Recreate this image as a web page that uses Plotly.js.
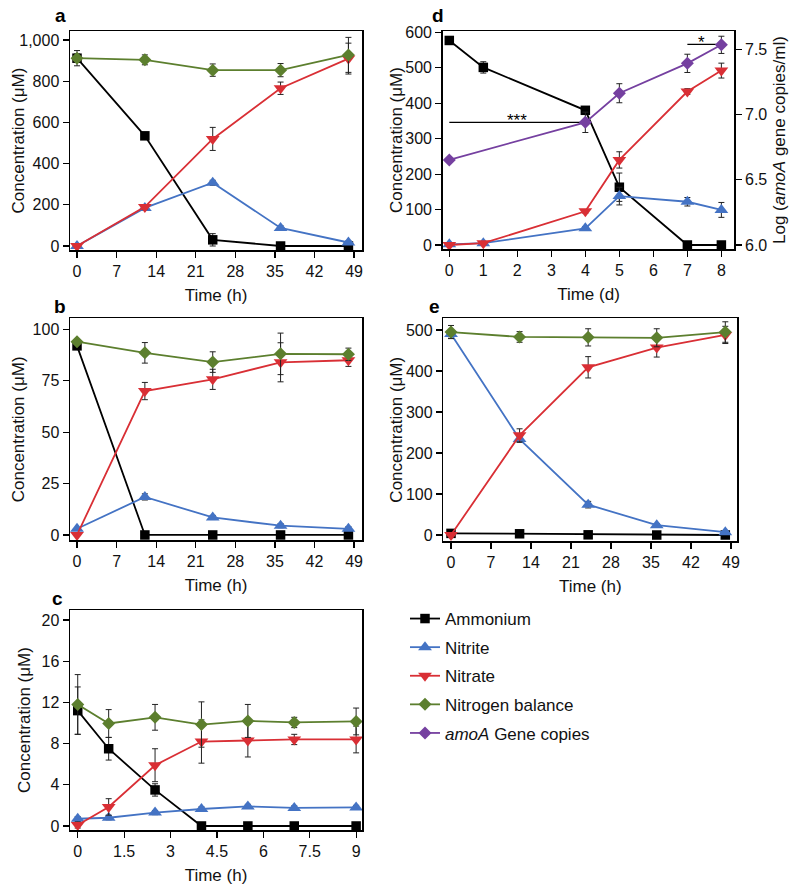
<!DOCTYPE html>
<html>
<head>
<meta charset="utf-8">
<script src="https://cdn.plot.ly/plotly-3.0.1.min.js"></script>
<style>html,body{margin:0;padding:0;background:#fff;}#chart{width:800px;height:890px;}</style>
</head>
<body>
<div id="chart"></div>
<script>
// ---------- DATA ----------
const seriesNames = ["Ammonium", "Nitrite", "Nitrate", "Nitrogen balance"];
const amoAName = "<i>amoA</i> Gene copies";

// Panel a (h)
const timeA = [0, 12, 24, 36, 48];
const aAmmonium = [912, 535, 30, 0, 0];
const aAmmoniumErr = [20, 10, 30, 0, 0];
const aNitrite = [0, 185, 307, 88, 17];
const aNitriteErr = [0, 8, 12, 10, 8];
const aNitrate = [0, 190, 520, 766, 910];
const aNitrateErr = [0, 10, 56, 30, 75];
const aBalance = [912, 904, 854, 854, 928];
const aBalanceErr = [37, 24, 30, 32, 85];

// Panel b (h)
const timeB = [0, 12, 24, 36, 48];
const bAmmonium = [92, 0, 0, 0, 0];
const bAmmoniumErr = [1, 0, 0, 0, 0];
const bNitrite = [3, 18.5, 8.5, 4.5, 3];
const bNitriteErr = [0.5, 1.5, 1, 1, 1];
const bNitrate = [0, 70, 75.7, 84, 85];
const bNitrateErr = [0, 4.2, 4.9, 9.5, 3];
const bBalance = [94, 88.6, 84.1, 88.1, 87.9];
const bBalanceErr = [1, 5, 5, 10.1, 3];

// Panel c (h)
const timeC = [0, 1, 2.5, 4, 5.5, 7, 9];
const cAmmonium = [11.2, 7.5, 3.5, 0, 0, 0, 0];
const cAmmoniumErr = [2.3, 1.1, 0.6, 0, 0, 0, 0];
const cNitrite = [0.7, 0.8, 1.3, 1.65, 1.9, 1.75, 1.8];
const cNitriteErr = [0.2, 0.2, 0.2, 0.2, 0.2, 0.2, 0.2];
const cNitrate = [0.1, 1.85, 5.9, 8.2, 8.3, 8.4, 8.4];
const cNitrateErr = [0.3, 0.8, 1.6, 2.1, 1.6, 0.5, 1.3];
const cBalance = [11.8, 9.95, 10.55, 9.85, 10.2, 10.05, 10.15];
const cBalanceErr = [2.9, 1.35, 1.25, 2.2, 1.6, 0.5, 1.3];

// Panel d (d)
const dayD = [0, 1, 4, 5, 7, 8];
const dAmmonium = [577, 501, 380, 163, 0, 0];
const dAmmoniumErr = [8, 16, 10, 40, 0, 0];
const dNitrite = [2, 5, 47, 138, 122, 99];
const dNitriteErr = [0, 3, 5, 25, 12, 21];
const dNitrate = [0, 5, 95, 240, 433, 492];
const dNitrateErr = [0, 3, 5, 23, 8, 21];
const dayAmoA = [0, 4, 5, 7, 8];
const dAmoA = [6.652, 6.94, 7.163, 7.392, 7.534];
const dAmoAErr = [0.01, 0.078, 0.073, 0.07, 0.066];
// significance bars (left axis units)
const sigX0 = [0, 7];
const sigX1 = [4, 7.85];
const sigY = [346, 566];
const sigLabel = ["***", "*"];

// Panel e (h)
const timeE = [0, 12, 24, 36, 48];
const eAmmonium = [4, 3, 0.5, 0, 0];
const eAmmoniumErr = [4, 2, 1, 0, 0];
const eNitrite = [490, 234, 74, 24, 7];
const eNitriteErr = [10, 8, 8, 4, 3];
const eNitrate = [0, 243, 409, 457, 488];
const eNitrateErr = [0, 16, 26, 23, 21];
const eBalance = [495, 483, 482, 481, 495];
const eBalanceErr = [16, 13, 21, 22, 25];

// Tick values
const ticksHour = [0, 7, 14, 21, 28, 35, 42, 49];
const ticksC = [0, 1.5, 3, 4.5, 6, 7.5, 9];
const ticksDay = [0, 1, 2, 3, 4, 5, 6, 7, 8];

// ---------- STYLE ----------
const FONT = "Liberation Sans, Arial, Helvetica, sans-serif";
const colors = ["#000000", "#4473C4", "#D92F35", "#5C7F2E"];
const amoAColor = "#7540A0";
const symbols = ["square", "triangle-up", "triangle-down", "diamond"];
const sizes = [9.5, 12, 12, 10];

const traces = [];
function addSeries(idx, x, y, err, xa, ya, showleg) {
  traces.push({
    type: "scatter", mode: "lines+markers",
    x: x, y: y, xaxis: xa, yaxis: ya,
    name: seriesNames[idx], legendgroup: seriesNames[idx], showlegend: showleg,
    line: {color: colors[idx], width: 1.8},
    marker: {color: colors[idx], symbol: symbols[idx], size: sizes[idx]},
    error_y: {type: "data", array: err, visible: true, color: "#222", thickness: 1, width: 3},
    cliponaxis: false
  });
}
addSeries(0, timeA, aAmmonium, aAmmoniumErr, "x", "y", true);
addSeries(1, timeA, aNitrite, aNitriteErr, "x", "y", true);
addSeries(2, timeA, aNitrate, aNitrateErr, "x", "y", true);
addSeries(3, timeA, aBalance, aBalanceErr, "x", "y", true);

addSeries(0, timeB, bAmmonium, bAmmoniumErr, "x2", "y2", false);
addSeries(1, timeB, bNitrite, bNitriteErr, "x2", "y2", false);
addSeries(2, timeB, bNitrate, bNitrateErr, "x2", "y2", false);
addSeries(3, timeB, bBalance, bBalanceErr, "x2", "y2", false);

addSeries(0, timeC, cAmmonium, cAmmoniumErr, "x3", "y3", false);
addSeries(1, timeC, cNitrite, cNitriteErr, "x3", "y3", false);
addSeries(2, timeC, cNitrate, cNitrateErr, "x3", "y3", false);
addSeries(3, timeC, cBalance, cBalanceErr, "x3", "y3", false);

// significance lines in d
for (let i = 0; i < sigX0.length; i++) {
  traces.push({type: "scatter", mode: "lines", x: [sigX0[i], sigX1[i]], y: [sigY[i], sigY[i]],
    xaxis: "x4", yaxis: "y4", showlegend: false, hoverinfo: "skip",
    line: {color: "#000", width: 1.4}});
}
addSeries(0, dayD, dAmmonium, dAmmoniumErr, "x4", "y4", false);
addSeries(1, dayD, dNitrite, dNitriteErr, "x4", "y4", false);
addSeries(2, dayD, dNitrate, dNitrateErr, "x4", "y4", false);
traces.push({
  type: "scatter", mode: "lines+markers", x: dayAmoA, y: dAmoA, xaxis: "x4", yaxis: "y6",
  name: amoAName, legendgroup: "amoA", showlegend: true,
  line: {color: amoAColor, width: 1.8},
  marker: {color: amoAColor, symbol: "diamond", size: 10},
  error_y: {type: "data", array: dAmoAErr, visible: true, color: "#222", thickness: 1, width: 3},
  cliponaxis: false
});

addSeries(0, timeE, eAmmonium, eAmmoniumErr, "x5", "y5", false);
addSeries(1, timeE, eNitrite, eNitriteErr, "x5", "y5", false);
addSeries(2, timeE, eNitrate, eNitrateErr, "x5", "y5", false);
addSeries(3, timeE, eBalance, eBalanceErr, "x5", "y5", false);

function dom(a, b, total) { return [a / total, b / total]; }
function ydom(top, bottom) { return [1 - bottom / 890, 1 - top / 890]; }

const axBase = {
  showgrid: false, zeroline: false, showline: true, mirror: true,
  linecolor: "#000", linewidth: 1.5, ticks: "outside", ticklen: 6, tickwidth: 1.2,
  tickcolor: "#000", tickfont: {family: FONT, size: 16, color: "#111"}, fixedrange: true
};
function xax(domain, anchor, range, tickvals, title) {
  return Object.assign({}, axBase, {domain: domain, anchor: anchor, range: range, tickvals: tickvals,
    title: {text: title, font: {family: FONT, size: 17, color: "#111"}, standoff: 10}});
}
function yax(domain, anchor, range, tickvals, extra) {
  return Object.assign({}, axBase, {domain: domain, anchor: anchor, range: range, tickvals: tickvals}, extra || {});
}
const conc = "Concentration (μM)";

const layout = {
  width: 800, height: 890, margin: {l: 0, r: 0, t: 0, b: 0},
  paper_bgcolor: "#fff", plot_bgcolor: "#fff",
  font: {family: FONT, color: "#111"},
  showlegend: true,
  legend: {x: 405 / 800, y: 1 - 601 / 890, xanchor: "left", yanchor: "top",
    font: {family: FONT, size: 17, color: "#111"}, tracegroupgap: 3.5, bgcolor: "rgba(0,0,0,0)",
    itemwidth: 30},
  xaxis: xax(dom(70, 362, 800), "y", [-1.24, 50.4], ticksHour, "Time (h)"),
  yaxis: yax(ydom(31, 250), "x", [-19.4, 1044], [0, 200, 400, 600, 800, 1000], {tickformat: ",d"}),
  xaxis2: xax(dom(70, 362, 800), "y2", [-1.24, 50.4], ticksHour, "Time (h)"),
  yaxis2: yax(ydom(318.3, 540.3), "x2", [-2.6, 105.4], [0, 25, 50, 75, 100]),
  xaxis3: xax(dom(70, 362, 800), "y3", [-0.25, 9.19], ticksC, "Time (h)"),
  yaxis3: yax(ydom(610, 830), "x3", [-0.39, 20.97], [0, 4, 8, 12, 16, 20]),
  xaxis4: xax(dom(442.7, 734.3, 800), "y4", [-0.194, 8.38], ticksDay, "Time (d)"),
  yaxis4: yax(ydom(31, 249), "x4", [-11.3, 603.7], [0, 100, 200, 300, 400, 500, 600], {mirror: false}),
  yaxis6: yax(ydom(31, 249), "x4", [5.969, 7.64], [6.0, 6.5, 7.0, 7.5],
    {overlaying: "y4", side: "right", tickformat: ".1f", mirror: false}),
  xaxis5: xax(dom(443.3, 737.3, 800), "y5", [-1.35, 50.1], ticksHour, "Time (h)"),
  yaxis5: yax(ydom(318.3, 541), "x5", [-14.6, 528.5], [0, 100, 200, 300, 400, 500]),
  annotations: []
};

// y-axis titles (text, x centre px, top px, bottom px of plot)
const yTitles = [
  [conc, 18, 31, 250], [conc, 18, 318.3, 540.3], [conc, 24, 610, 830],
  [conc, 397, 31, 249], [conc, 397, 318.3, 541],
  ["Log (<i>amoA</i> gene copies/ml)", 780, 31, 249]
];
yTitles.forEach(t => layout.annotations.push({
  text: t[0], textangle: -90, x: t[1] / 800, y: 1 - (t[2] + t[3]) / 2 / 890, xref: "paper", yref: "paper",
  showarrow: false, xanchor: "center", yanchor: "middle", font: {family: FONT, size: 17, color: "#111"}
}));

const letters = [["a", 60, 16], ["b", 60, 307], ["c", 58, 598], ["d", 438, 16], ["e", 435, 307]];
letters.forEach(l => layout.annotations.push({
  text: "<b>" + l[0] + "</b>", x: l[1] / 800, y: 1 - l[2] / 890, xref: "paper", yref: "paper",
  showarrow: false, xanchor: "center", yanchor: "middle", font: {family: FONT, size: 19, color: "#000"}
}));
for (let i = 0; i < sigLabel.length; i++) {
  layout.annotations.push({text: sigLabel[i], x: (sigX0[i] + sigX1[i]) / 2, y: sigY[i], xref: "x4", yref: "y4",
    showarrow: false, xanchor: "center", yanchor: "bottom", yshift: -10,
    font: {family: FONT, size: 17, color: "#000"}});
}

Plotly.newPlot("chart", traces, layout, {staticPlot: true, displayModeBar: false});
</script>
</body>
</html>
